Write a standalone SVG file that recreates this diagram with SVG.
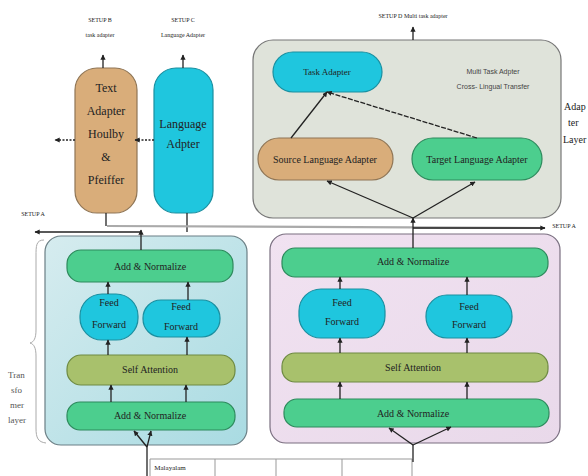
<svg xmlns="http://www.w3.org/2000/svg" width="588" height="476" viewBox="0 0 588 476">
<defs>
<marker id="ah" viewBox="0 0 10 10" refX="9" refY="5" markerWidth="4" markerHeight="4" orient="auto-start-reverse">
<path d="M0,0 L10,5 L0,10 z" fill="#222"/>
</marker>
<linearGradient id="gl" x1="0" y1="0" x2="1" y2="1">
<stop offset="0" stop-color="#d6ecef"/>
<stop offset="1" stop-color="#a9dbe2"/>
</linearGradient>
<linearGradient id="gr" x1="0" y1="0" x2="1" y2="1">
<stop offset="0" stop-color="#f1e2f1"/>
<stop offset="1" stop-color="#e9d9ea"/>
</linearGradient>
</defs>
<style>
text{font-family:'Liberation Serif','Times New Roman','DejaVu Serif',serif;fill:#222;text-anchor:middle}
.s{font-size:6px}
.m{font-size:10px}
.l{font-size:12px}
text.sans{font-family:'Liberation Sans',Arial,sans-serif;font-size:7px;fill:#444}
.tan{fill:#d9ad7a;stroke:#8f7555;stroke-width:1.2}
.cy{fill:#1fc6de;stroke:#1a8fa0;stroke-width:1.2}
.gn{fill:#4cce8e;stroke:#2d8a5c;stroke-width:1.2}
.ol{fill:#a8c16c;stroke:#6e8a42;stroke-width:1.2}
.ln{stroke:#222;stroke-width:1.3;fill:none}
.lt{stroke:#999;stroke-width:1;fill:none}
</style>
<rect width="588" height="476" fill="#fff"/>
<g font-family="Liberation Serif, serif">
<text class="s" x="100" y="22">SETUP B</text>
<text class="s" x="100" y="37">task adapter</text>
<text class="s" x="183" y="22">SETUP C</text>
<text class="s" x="183" y="37">Language Adapter</text>
<text class="s" x="413" y="18">SETUP D Multi task adapter</text>
<text class="s" x="33" y="216">SETUP A</text>
<text class="s" x="564" y="228">SETUP A</text>

<g id="text-adapter">
<rect class="tan" x="75" y="68" width="62" height="145" rx="22"/>
<text class="l" x="106" y="92">Text</text>
<text class="l" x="106" y="115">Adapter</text>
<text class="l" x="106" y="138">Houlby</text>
<text class="l" x="106" y="161">&amp;</text>
<text class="l" x="106" y="184">Pfeiffer</text>
</g>
<g id="language-adapter">
<rect class="cy" x="154" y="68" width="59" height="145" rx="22"/>
<text class="l" x="183" y="128">Language</text>
<text class="l" x="183" y="148">Adpter</text>
</g>

<g id="multi-task">
<rect x="253" y="40" width="308" height="178" rx="20" fill="#dfe3da" stroke="#777" stroke-width="1.2"/>
<text class="sans" x="493" y="74">Multi Task Adpter</text>
<text class="sans" x="493" y="89">Cross- Lingual Transfer</text>
</g>
<g id="task-adapter">
<rect class="cy" x="273" y="52" width="109" height="40" rx="20"/>
<text class="m" x="327" y="75" style="font-size:9px">Task Adapter</text>
</g>
<g id="source-lang">
<rect class="tan" x="258" y="138" width="135" height="42" rx="21"/>
<text class="m" x="325" y="163">Source Language Adapter</text>
</g>
<g id="target-lang">
<rect class="gn" x="412" y="138" width="130" height="42" rx="21"/>
<text class="m" x="477" y="163">Target Language Adapter</text>
</g>
<text class="m" x="564" y="110" style="text-anchor:start">Adap</text>
<text class="m" x="568" y="126" style="text-anchor:start">ter</text>
<text class="m" x="563" y="143" style="text-anchor:start">Layer</text>

<g id="transformer-left">
<rect x="45" y="236" width="202" height="209" rx="16" fill="url(#gl)" stroke="#6b7f85" stroke-width="1.2"/>
</g>
<g id="an-left-top">
<rect class="gn" x="67" y="250" width="166" height="32" rx="14"/>
<text class="m" x="150" y="270">Add &amp; Normalize</text>
</g>
<g id="ff-left-1">
<rect class="cy" x="80" y="294" width="58" height="46" rx="22"/>
<text class="m" x="109" y="306">Feed</text>
<text class="m" x="109" y="328">Forward</text>
</g>
<g id="ff-left-2">
<rect class="cy" x="143" y="300" width="77" height="37" rx="18"/>
<text class="m" x="181" y="310">Feed</text>
<text class="m" x="181" y="330">Forward</text>
</g>
<g id="sa-left">
<rect class="ol" x="67" y="355" width="168" height="30" rx="14"/>
<text class="m" x="150" y="373">Self Attention</text>
</g>
<g id="an-left-bottom">
<rect class="gn" x="67" y="402" width="168" height="28" rx="13"/>
<text class="m" x="150" y="419">Add &amp; Normalize</text>
</g>

<g id="transformer-right">
<rect x="270" y="234" width="290" height="209" rx="16" fill="url(#gr)" stroke="#7a6f80" stroke-width="1.2"/>
</g>
<g id="an-right-top">
<rect class="gn" x="282" y="248" width="266" height="29" rx="13"/>
<text class="m" x="413" y="265">Add &amp; Normalize</text>
</g>
<g id="ff-right-1">
<rect class="cy" x="299" y="289" width="86" height="49" rx="22"/>
<text class="m" x="342" y="306">Feed</text>
<text class="m" x="342" y="325">Forward</text>
</g>
<g id="ff-right-2">
<rect class="cy" x="426" y="295" width="86" height="43" rx="21"/>
<text class="m" x="469" y="310">Feed</text>
<text class="m" x="469" y="328">Forward</text>
</g>
<g id="sa-right">
<rect class="ol" x="282" y="353" width="266" height="29" rx="13"/>
<text class="m" x="413" y="371">Self Attention</text>
</g>
<g id="an-right-bottom">
<rect class="gn" x="284" y="399" width="265" height="28" rx="13"/>
<text class="m" x="413" y="417">Add &amp; Normalize</text>
</g>

<g id="brace">
<path d="M44,240 C36,240 36,246 36,256 L36,330 C36,338 34,342 30,343 C34,344 36,348 36,356 L36,428 C36,438 38,442 46,443" fill="none" stroke="#aaa" stroke-width="1"/>
<text class="m" x="8" y="378" style="text-anchor:start;font-size:9px;fill:#555">Tran</text>
<text class="m" x="11" y="393" style="text-anchor:start;font-size:9px;fill:#555">sfo</text>
<text class="m" x="10" y="408" style="text-anchor:start;font-size:9px;fill:#555">mer</text>
<text class="m" x="8" y="423" style="text-anchor:start;font-size:9px;fill:#555">layer</text>
</g>

<g id="table">
<path d="M150,459 L412,459 M150,459 L150,476 M215,459 L215,476 M276,459 L276,476 M342,459 L342,476 M412,459 L412,476" class="lt"/>
<text class="s" x="170" y="470" style="font-size:7px">Malayalam</text>
</g>
</g>
<g id="connectors">
<path class="ln" d="M103,68 L103,55" marker-end="url(#ah)"/>
<path class="ln" d="M183,68 L183,55" marker-end="url(#ah)"/>
<path class="ln" d="M413,40 L413,27" marker-end="url(#ah)"/>
<path class="ln" d="M75,140 L55,140" stroke-dasharray="2,1.5" marker-end="url(#ah)"/>
<path class="ln" d="M154,140 L135,140" stroke-dasharray="2,1.5" marker-end="url(#ah)"/>
<path class="ln" d="M106,213 L106,226"/>
<path class="ln" d="M187,213 L187,232"/>
<path d="M107,226 L545,228" stroke="#aaa" stroke-width="2.2" fill="none"/>
<path d="M413,228 L545,228" class="ln" marker-end="url(#ah)"/>
<path class="ln" d="M141,232 L35,232" marker-end="url(#ah)"/>
<path class="ln" d="M141,250 L141,230" marker-end="url(#ah)"/>
<path class="ln" d="M413,248 L413,218" marker-end="url(#ah)"/>
<path class="ln" d="M291,138 L327,92" marker-end="url(#ah)"/>
<path class="ln" d="M477,138 L327,92" stroke-dasharray="5,1.5" marker-end="url(#ah)"/>
<path class="ln" d="M413,218 L327,181" marker-end="url(#ah)"/>
<path class="ln" d="M413,218 L475,182" marker-end="url(#ah)"/>
<path class="ln" d="M108,355 L108,340" marker-end="url(#ah)"/>
<path class="ln" d="M187,355 L187,337" marker-end="url(#ah)"/>
<path class="ln" d="M108,294 L108,282" marker-end="url(#ah)"/>
<path class="ln" d="M188,300 L188,282" marker-end="url(#ah)"/>
<path class="ln" d="M111,402 L111,385" marker-end="url(#ah)"/>
<path class="ln" d="M186,402 L186,385" marker-end="url(#ah)"/>
<path class="ln" d="M147,476 L147,447"/>
<path class="ln" d="M147,447 L134,431" marker-end="url(#ah)"/>
<path class="ln" d="M147,447 L151,431" marker-end="url(#ah)"/>
<path class="ln" d="M340,353 L340,338" marker-end="url(#ah)"/>
<path class="ln" d="M467,353 L467,338" marker-end="url(#ah)"/>
<path class="ln" d="M340,289 L340,277" marker-end="url(#ah)"/>
<path class="ln" d="M467,295 L467,277" marker-end="url(#ah)"/>
<path class="ln" d="M340,399 L340,382" marker-end="url(#ah)"/>
<path class="ln" d="M467,399 L467,382" marker-end="url(#ah)"/>
<path class="ln" d="M413,462 L413,445"/>
<path class="ln" d="M413,445 L389,428" marker-end="url(#ah)"/>
<path class="ln" d="M413,445 L451,427" marker-end="url(#ah)"/>
</g>
</svg>
